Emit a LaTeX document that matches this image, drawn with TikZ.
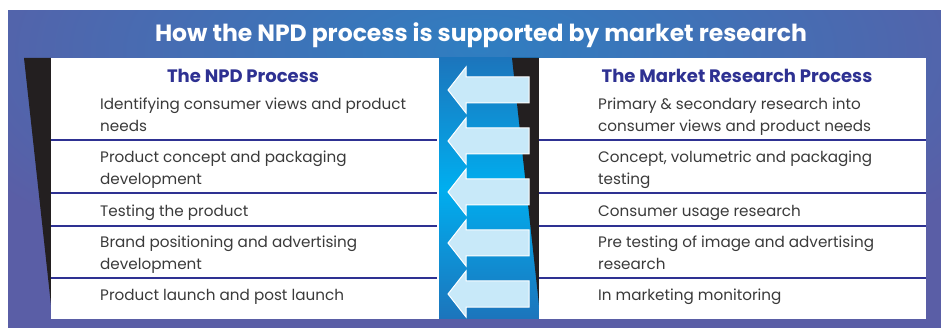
\documentclass[tikz,border=0pt]{standalone}
\usepackage{fontspec}
\setmainfont{Poppins}
\usepackage{tikz}
\usetikzlibrary{positioning}

\definecolor{bgpurple}{HTML}{5A5EA6}
\definecolor{bgblue}{HTML}{2F7EC1}
\definecolor{npdblue}{HTML}{2E3192}
\definecolor{colblue}{HTML}{1C75BC}
\definecolor{colcyan}{HTML}{00AEEF}
\definecolor{arrowfill}{HTML}{C8E9F9}
\definecolor{shadowblack}{HTML}{231F20}
\definecolor{bodygray}{HTML}{3A3A3A}

\tikzset{
  panel/.style={fill=white},
  rowline/.style={npdblue, line width=1.2pt},
  heading/.style={npdblue, anchor=base, font=\fontsize{18}{20}\selectfont\bfseries},
  rowtext/.style={anchor=base west, align=left, bodygray, inner sep=0pt,
    font=\fontsize{15.2}{22}\selectfont},
  larrow/.pic={
    \filldraw[fill=arrowfill, draw=white, line width=1pt]
      (0,0) -- (18,-23) -- (18,-13) -- (81,-13) -- (81,13) -- (18,13) -- (18,23) -- cycle;
  }
}

\begin{document}
\begin{tikzpicture}[x=1pt, y=-1pt]
  \useasboundingbox (0,0) rectangle (941,328);
  % Background
  \fill[bgpurple] (8,11) rectangle (941,328);
  \begin{scope}
    \clip (8,11) rectangle (941,328);
    \shade[inner color=bgblue, outer color=bgpurple] (-100,-200) rectangle (1060,300);
  \end{scope}
  \node[white, anchor=base, font=\fontsize{23.5}{26}\selectfont\bfseries] (title) at (481,42)
    {How the NPD process is supported by market research};
  % Middle column
  \shade[top color=colblue, bottom color=colblue, middle color=colcyan] (439,58) rectangle (539,318);
  % Shadows
  \fill[shadowblack] (24,58) -- (51,58) -- (51,305) -- cycle;
  \fill[shadowblack] (512,58) -- (539,58) -- (539,305) -- cycle;
  %Arrows
  \foreach \y in {90,141,192,243,294}
    \pic at (448,\y) {larrow};
  %NPD panel
  \fill[panel] (51,58) rectangle (439,319);
  \node[heading] (npdhead) at (243,83) {The NPD Process};
  \node[rowtext] (npd1) at (100,132) {Identifying consumer views and product\\needs};
  \node[rowtext] (npd2) at (100,185) {Product concept and packaging\\development};
  \node[rowtext] (npd3) at (100,217) {Testing the product};
  \node[rowtext] (npd4) at (100,270) {Brand positioning and advertising\\development};
  \node[rowtext] (npd5) at (100,301) {Product launch and post launch};
  \foreach \y in {140,193,226,278}
    \draw[rowline] (51,\y) -- (437,\y);
  %Market research panel
  \fill[panel] (539,58) rectangle (926,319);
  \node[heading] (mrhead) at (737,83) {The Market Research Process};
  \node[rowtext] (mr1) at (598,132) {Primary \& secondary research into\\consumer views and product needs};
  \node[rowtext] (mr2) at (598,185) {Concept, volumetric and packaging\\testing};
  \node[rowtext] (mr3) at (598,217) {Consumer usage research};
  \node[rowtext] (mr4) at (598,270) {Pre testing of image and advertising\\research};
  \node[rowtext] (mr5) at (598,301) {In marketing monitoring};
  \foreach \y in {140,193,226,278}
    \draw[rowline] (539,\y) -- (926,\y);
\end{tikzpicture}
\end{document}
